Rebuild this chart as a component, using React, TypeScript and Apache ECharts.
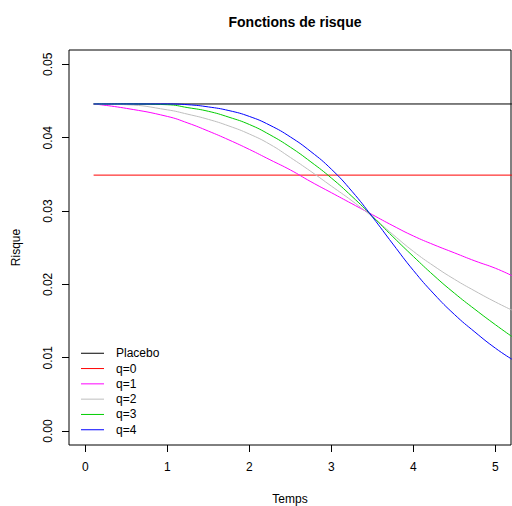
import React, { useEffect, useRef } from "react";
import * as echarts from "echarts";

const times = [0.1, 0.5, 1.0, 1.25, 1.5, 1.75, 2.0, 2.25, 2.5, 2.75, 3.0, 3.25, 3.5, 3.75, 4.0, 4.25, 4.5, 4.75, 5.0, 5.2];
const placebo = [0.0446, 0.0446];
const placeboTimes = [0.1, 5.2];
const q0 = [0.0349, 0.0349];
const q1 = [0.0446, 0.0440, 0.0429, 0.0420, 0.0409, 0.0397, 0.0384, 0.0370, 0.0356, 0.0340, 0.0325, 0.0310, 0.0295, 0.0280, 0.0266, 0.0254, 0.0243, 0.0232, 0.0222, 0.0212];
const q2 = [0.0446, 0.0445, 0.0438, 0.0432, 0.0425, 0.0416, 0.0405, 0.0391, 0.0373, 0.0354, 0.0334, 0.0314, 0.0292, 0.0268, 0.0245, 0.0225, 0.0207, 0.0191, 0.0176, 0.0165];
const q3 = [0.0446, 0.0446, 0.0445, 0.0441, 0.0436, 0.0428, 0.0418, 0.0404, 0.0387, 0.0367, 0.0345, 0.0320, 0.0293, 0.0265, 0.0238, 0.0212, 0.0188, 0.0166, 0.0145, 0.0129];
const q4 = [0.0446, 0.0446, 0.0446, 0.0445, 0.0442, 0.0437, 0.0429, 0.0417, 0.0401, 0.0381, 0.0357, 0.0327, 0.0292, 0.0255, 0.0219, 0.0187, 0.0159, 0.0135, 0.0113, 0.0098];
const seriesNames = ["Placebo", "q=0", "q=1", "q=2", "q=3", "q=4"];
const seriesColors = ["#000000", "#FF0000", "#FF00FF", "#BEBEBE", "#00CD00", "#0000FF"];
const xTicks = [0, 1, 2, 3, 4, 5];
const yTicks = [0, 0.01, 0.02, 0.03, 0.04, 0.05];

const FONT = "'Liberation Sans', Arial, Helvetica, sans-serif";

export default function App() {
  const ref = useRef<HTMLDivElement>(null);
  useEffect(() => {
    document.body.style.margin = "0";
    const chart = echarts.init(ref.current!, null, { renderer: "svg" });
    const zip = (xs: number[], ys: number[]) => xs.map((x, i) => [x, ys[i]]);
    const datasets = [
      zip(placeboTimes, placebo),
      zip(placeboTimes, q0),
      zip(times, q1),
      zip(times, q2),
      zip(times, q3),
      zip(times, q4),
    ];
    chart.setOption({
      animation: false,
      textStyle: { fontFamily: FONT },
      title: {
        text: "Fonctions de risque",
        left: 290,
        textAlign: "center",
        top: 10,
        textStyle: { fontSize: 14, fontWeight: "bold", color: "#000", fontFamily: FONT },
      },
      grid: {
        left: 69,
        top: 50,
        right: 1,
        bottom: 61,
        show: true,
        containLabel: false,
        outerBoundsMode: "none",
        borderColor: "#000",
        borderWidth: 1,
        backgroundColor: "transparent",
      },
      legend: {
        orient: "vertical",
        left: 81,
        top: 345.6,
        padding: 0,
        itemGap: 0,
        itemWidth: 23,
        itemHeight: 1,
        icon: "rect",
        data: seriesNames,
        textStyle: { fontSize: 12, color: "#000", lineHeight: 15.3, padding: [0, 0, 0, 7], fontFamily: FONT },
      },
      xAxis: {
        type: "value",
        min: -0.2,
        max: 5.19,
        name: "Temps",
        nameLocation: "middle",
        nameGap: 48,
        nameTextStyle: { fontSize: 12, color: "#000", fontFamily: FONT },
        axisLine: { show: false, onZero: false },
        splitLine: { show: false },
        axisTick: { show: true, length: 7, inside: false, customValues: xTicks, lineStyle: { color: "#000" } },
        axisLabel: { show: true, customValues: xTicks, margin: 16, fontSize: 12, color: "#000", fontFamily: FONT },
      },
      yAxis: {
        type: "value",
        min: -0.0019,
        max: 0.05196,
        name: "Risque",
        nameLocation: "middle",
        nameGap: 47,
        nameRotate: 90,
        nameTextStyle: { fontSize: 12, color: "#000", fontFamily: FONT },
        axisLine: { show: false, onZero: false },
        splitLine: { show: false },
        axisTick: { show: true, length: 7, inside: false, customValues: yTicks, lineStyle: { color: "#000" } },
        axisLabel: {
          show: true,
          customValues: yTicks,
          rotate: 90,
          margin: 15,
          fontSize: 12,
          color: "#000",
          fontFamily: FONT,
          formatter: (v: number) => v.toFixed(2),
        },
      },
      series: seriesNames.map((name, i) => ({
        name,
        type: "line",
        data: datasets[i],
        showSymbol: false,
        symbol: "none",
        smooth: i >= 2 ? 0.5 : false,
        clip: true,
        color: seriesColors[i],
        lineStyle: { color: seriesColors[i], width: 1 },
        z: 2 + i,
      })),
    });
    return () => chart.dispose();
  }, []);
  return <div ref={ref} style={{ width: 512, height: 506 }} />;
}
